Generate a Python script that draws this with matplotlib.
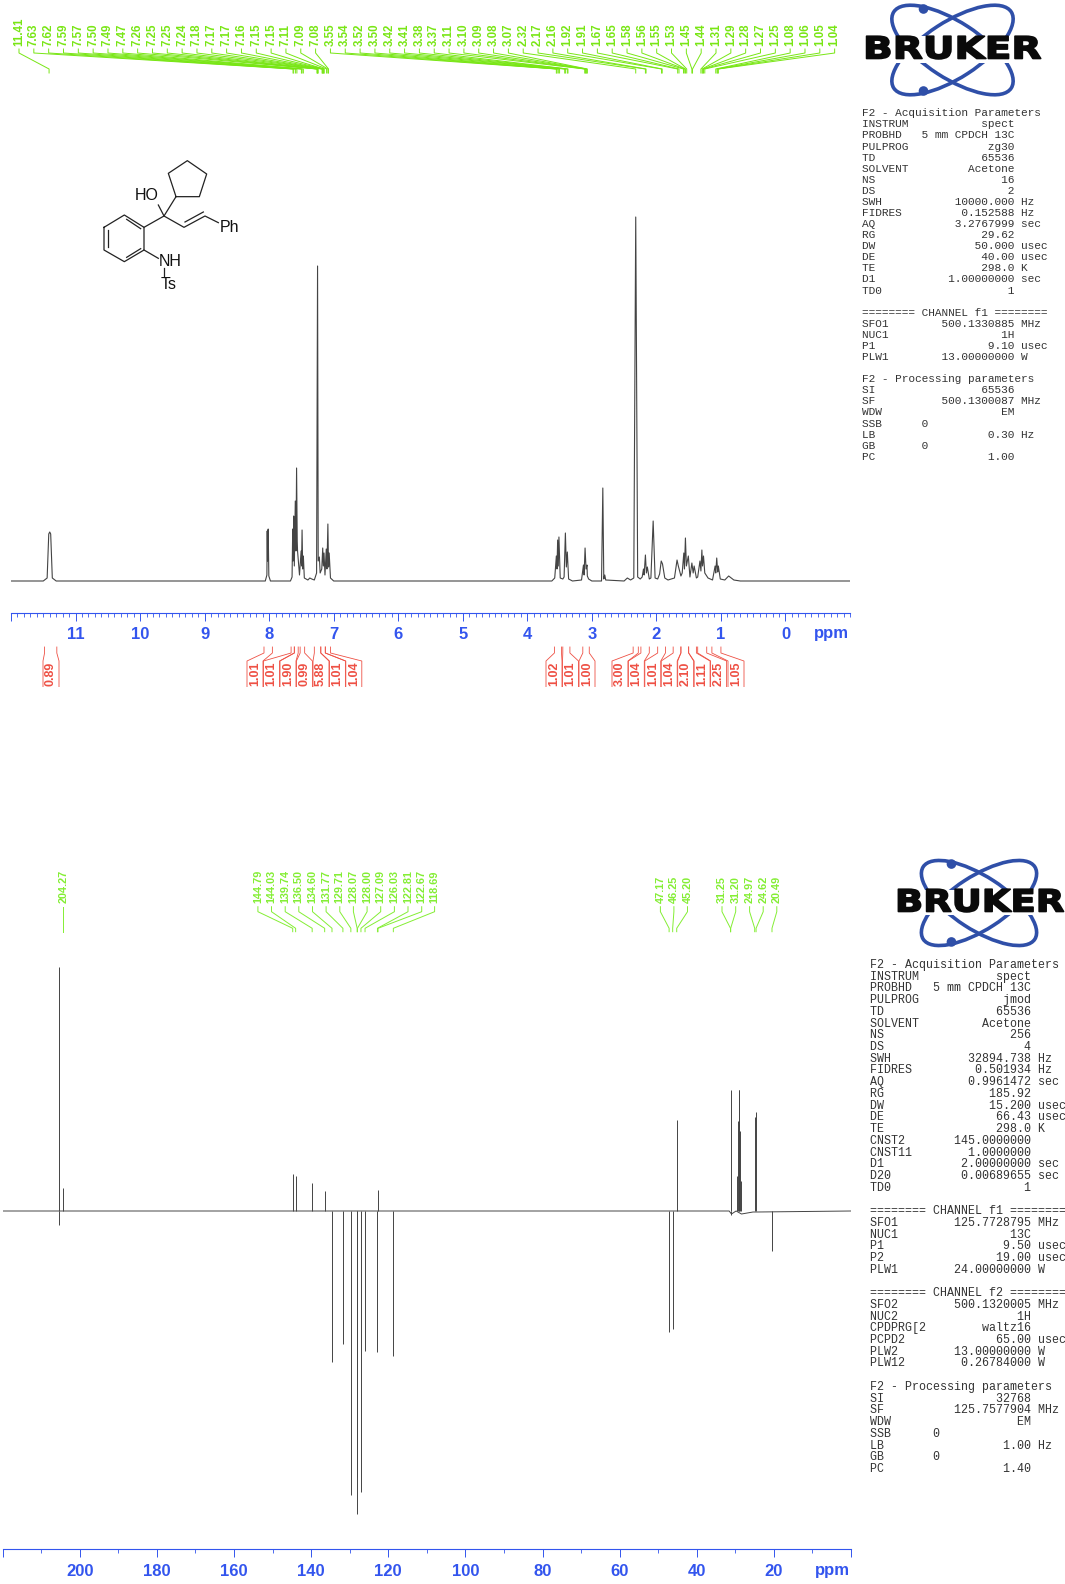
import matplotlib
matplotlib.use("Agg")
import matplotlib.pyplot as plt
from matplotlib.patches import Ellipse, Circle, Rectangle
from matplotlib.patheffects import AbstractPathEffect
from matplotlib.ticker import MultipleLocator
from matplotlib.transforms import Affine2D

# 1H trace, ppm against height
h_ppm = [12.0, 11.50, 11.44, 11.415, 11.40, 11.385, 11.36, 11.30, 8.06, 8.035, 8.03, 8.025, 8.015, 8.005, 7.98,
         7.67, 7.645, 7.635, 7.628, 7.62, 7.61, 7.595, 7.585, 7.575, 7.565, 7.56, 7.53, 7.505, 7.498, 7.49, 7.48,
         7.47, 7.455, 7.40, 7.37, 7.34, 7.30, 7.265, 7.25, 7.24, 7.222, 7.21, 7.185, 7.17, 7.16, 7.15, 7.135,
         7.115, 7.105, 7.09, 7.08, 7.07, 7.05, 7.0, 3.62, 3.575, 3.55, 3.54, 3.53, 3.52, 3.51, 3.49, 3.45, 3.43,
         3.41, 3.395, 3.38, 3.36, 3.3, 3.16, 3.13, 3.12, 3.105, 3.09, 3.075, 3.07, 3.05, 3.0, 2.85, 2.83, 2.815,
         2.80, 2.785, 2.5, 2.45, 2.40, 2.35, 2.32, 2.29, 2.25, 2.22, 2.20, 2.19, 2.17, 2.155, 2.14, 2.11, 2.085,
         2.05, 2.02, 1.98, 1.95, 1.925, 1.905, 1.87, 1.82, 1.72, 1.68, 1.66, 1.62, 1.60, 1.575, 1.565, 1.55,
         1.535, 1.505, 1.48, 1.45, 1.43, 1.415, 1.38, 1.36, 1.325, 1.31, 1.295, 1.285, 1.27, 1.25, 1.20, 1.13,
         1.09, 1.08, 1.065, 1.05, 1.04, 1.01, 0.94, 0.88, 0.86, 0.80, 0.70, -1.0]
h_int = [0, 0, 3, 47, 49, 47, 3, 0, 0, 6, 50, 20, 52, 5, 0,
         0, 4, 52, 20, 65, 15, 80, 30, 113, 40, 30, 6, 30, 15, 51, 12,
         25, 3, 1, 3, 2, 1, 8, 315, 20, 24, 8, 12, 33, 15, 28, 6,
         32, 12, 57, 14, 28, 3, 0, 0, 3, 25, 12, 41, 15, 44, 3, 2, 4,
         48, 14, 29, 2, 0, 1, 16, 6, 33, 12, 16, 5, 2, 0, 0, 93, 2,
         6, 1, 0, 3, 1, 3, 364, 4, 2, 4, 12, 6, 26, 8, 14, 2, 3,
         60, 3, 2, 7, 20, 17, 3, 1, 3, 21, 15, 5, 8, 28, 12, 43,
         15, 25, 4, 18, 8, 15, 3, 4, 20, 10, 31, 15, 25, 8, 3, 1,
         15, 8, 23, 9, 15, 2, 1, 5, 4, 1, 0, 0]

# 13C lines
c_peaks = [205.5, 205.4, 204.27, 144.79, 144.03, 139.74, 136.50, 134.60, 131.77, 129.71, 128.07, 128.00, 127.09,
           126.03, 122.81, 122.67, 118.69, 47.17, 46.25, 45.20, 31.25, 31.20, 29.5, 29.3, 29.1, 28.95, 28.8, 28.6,
           24.97, 24.62, 20.49]
c_heights = [244, -14, 23, 37, 35, 28, 20, -151, -133, -284, -303, -266, -281, -140, -141, 21, -145,
             -121, -118, 91, 121, -4, 35, 90, 121, 121, 80, 30, 94, 99, -40]
c_base_ppm = [220, 31.6, 31.0, 29.8, 28.4, 25.4, 24.2, 0]
c_base_int = [0, 0, -3, 0, -3, -1, -1, 0]

h_labels = ["11.41", "7.63", "7.62", "7.59", "7.57", "7.50", "7.49", "7.47", "7.26", "7.25", "7.25", "7.24", "7.18",
            "7.17", "7.17", "7.16", "7.15", "7.15", "7.11", "7.09", "7.08", "3.55", "3.54", "3.52", "3.50", "3.42",
            "3.41", "3.38", "3.37", "3.11", "3.10", "3.09", "3.08", "3.07", "2.32", "2.17", "2.16", "1.92", "1.91",
            "1.67", "1.65", "1.58", "1.56", "1.55", "1.53", "1.45", "1.44", "1.31", "1.29", "1.28", "1.27", "1.25",
            "1.08", "1.06", "1.05", "1.04"]
c_labels = ["144.79", "144.03", "139.74", "136.50", "134.60", "131.77", "129.71", "128.07", "128.00", "127.09",
            "126.03", "122.81", "122.67", "118.69", "47.17", "46.25", "45.20", "31.25", "31.20", "24.97", "24.62",
            "20.49"]
c_label_x = [257.9, 271.5, 285.2, 298.8, 312.5, 326.1, 339.8, 353.4, 367.1, 380.7, 394.4, 408.0, 421.7, 434.6,
             660.4, 673.9, 687.5, 722.0, 735.7, 749.6, 763.2, 776.8]

int_values = ["0.89", "1.01", "1.01", "1.90", "0.99", "5.88", "1.01", "1.04", "1.02", "1.01", "1.00",
              "3.00", "1.04", "1.01", "1.04", "2.10", "1.11", "2.25", "1.05"]
int_start = [11.48, 8.08, 7.66, 7.61, 7.52, 7.30, 7.20, 7.13, 3.58, 3.45, 3.14,
             2.36, 2.24, 1.98, 1.74, 1.62, 1.50, 1.36, 1.14]
int_end = [11.29, 7.95, 7.61, 7.55, 7.45, 7.20, 7.13, 7.05, 3.47, 3.34, 3.04,
           2.28, 2.11, 1.86, 1.62, 1.50, 1.38, 1.22, 1.00]
int_label_x = [51, 255, 271.5, 288, 304.4, 321, 337.4, 353.8, 554, 570.5, 587,
               620, 636.3, 652.8, 669.2, 685.7, 702.1, 718.6, 736]

params_h = [("INSTRUM", "spect", ""), ("PROBHD", "5 mm CPDCH 13C", ""), ("PULPROG", "zg30", ""), ("TD", "65536", ""),
            ("SOLVENT", "Acetone", ""), ("NS", "16", ""), ("DS", "2", ""), ("SWH", "10000.000", "Hz"),
            ("FIDRES", "0.152588", "Hz"), ("AQ", "3.2767999", "sec"), ("RG", "29.62", ""), ("DW", "50.000", "usec"),
            ("DE", "40.00", "usec"), ("TE", "298.0", "K"), ("D1", "1.00000000", "sec"), ("TD0", "1", "")]
chan_h = [("SFO1", "500.1330885", "MHz"), ("NUC1", "1H", ""), ("P1", "9.10", "usec"), ("PLW1", "13.00000000", "W")]
proc_h = [("SI", "65536", ""), ("SF", "500.1300087", "MHz"), ("WDW", "EM", ""), ("SSB", "0", "left"),
          ("LB", "0.30", "Hz"), ("GB", "0", "left"), ("PC", "1.00", "")]

params_c = [("INSTRUM", "spect", ""), ("PROBHD", "5 mm CPDCH 13C", ""), ("PULPROG", "jmod", ""), ("TD", "65536", ""),
            ("SOLVENT", "Acetone", ""), ("NS", "256", ""), ("DS", "4", ""), ("SWH", "32894.738", "Hz"),
            ("FIDRES", "0.501934", "Hz"), ("AQ", "0.9961472", "sec"), ("RG", "185.92", ""), ("DW", "15.200", "usec"),
            ("DE", "66.43", "usec"), ("TE", "298.0", "K"), ("CNST2", "145.0000000", ""), ("CNST11", "1.0000000", ""),
            ("D1", "2.00000000", "sec"), ("D20", "0.00689655", "sec"), ("TD0", "1", "")]
chan_c1 = [("SFO1", "125.7728795", "MHz"), ("NUC1", "13C", ""), ("P1", "9.50", "usec"), ("P2", "19.00", "usec"),
           ("PLW1", "24.00000000", "W")]
chan_c2 = [("SFO2", "500.1320005", "MHz"), ("NUC2", "1H", ""), ("CPDPRG[2", "waltz16", ""), ("PCPD2", "65.00", "usec"),
           ("PLW2", "13.00000000", "W"), ("PLW12", "0.26784000", "W")]
proc_c = [("SI", "32768", ""), ("SF", "125.7577904", "MHz"), ("WDW", "EM", ""), ("SSB", "0", "left"),
          ("LB", "1.00", "Hz"), ("GB", "0", "left"), ("PC", "1.40", "")]

W, H = 1065, 1584
BLUE = "#3355ee"
TRACE = "#444444"
GREEN_H = "#78e614"
GREEN_C = "#84ee34"
RED = "#ee5044"
LOGO = "#2f4fa8"


class Widen(AbstractPathEffect):
    # stretches the glyphs sideways, the logo lettering is much wider than any installed font
    def __init__(self, x0, sx, stroke):
        self.x0 = x0
        self.sx = sx
        self.stroke = stroke

    def draw_path(self, renderer, gc, tpath, affine, rgbFace=None):
        stretch = Affine2D().translate(-self.x0, 0).scale(self.sx, 1).translate(self.x0, 0)
        gc0 = renderer.new_gc()
        gc0.copy_properties(gc)
        gc0.set_linewidth(self.stroke)
        gc0.set_foreground(rgbFace)
        renderer.draw_path(gc0, tpath, affine + stretch, rgbFace)
        gc0.restore()


def axes_px(fig, left, top, right, bottom):
    return fig.add_axes([left / W, 1 - bottom / H, (right - left) / W, (bottom - top) / H])


def style_scale(ax, major, minor, labels):
    for side in ["left", "right", "top"]:
        ax.spines[side].set_visible(False)
    ax.spines["bottom"].set_color(BLUE)
    ax.spines["bottom"].set_linewidth(0.8)
    ax.set_yticks([])
    ax.set_xticks(major)
    ax.set_xticklabels(labels, family="Liberation Sans", weight="bold", fontsize=12, color=BLUE)
    ax.xaxis.set_minor_locator(MultipleLocator(minor))
    ax.tick_params(axis="x", which="major", length=5.8, width=0.7, color=BLUE, pad=4.5)
    ax.tick_params(axis="x", which="minor", length=2.6, width=0.6, color=BLUE)
    ax.patch.set_visible(False)


def draw_logo(pg, cx, cy, scale, text_left, text_width):
    for angle in [33, -33]:
        pg.add_patch(Ellipse((cx, cy), 140 * scale, 56 * scale, angle=angle, fill=False, ec=LOGO, lw=2.6))
    pg.add_patch(Rectangle((text_left - 4, cy - 14 * scale), text_width + 8, 27 * scale, fc="white", ec="none"))
    for dy in [-41, 41]:
        pg.add_patch(Circle((cx - 29 * scale, cy + dy * scale), 4.8, fc=LOGO, ec="none"))
    word = pg.text(text_left, cy, "BRUKER", family="DejaVu Sans", weight="bold", fontsize=22, color="#0a0a0a",
                   ha="left", va="center")
    # DejaVu Bold at this size is about 137 px wide
    word.set_path_effects([Widen(text_left, text_width / 137.0, 1.2)])


def draw_params(pg, x, y, step, size, blocks):
    n = 0
    for title, rows in blocks:
        if n > 0:
            n += 1
        pg.text(x, y + n * step, title, family="Liberation Mono", fontsize=size, color="#333333", va="center")
        n += 1
        for name, value, unit in rows:
            if unit == "left":
                line = f"{name:<9}{value}"
            else:
                line = f"{name:<9}{value:>14} {unit}"
            pg.text(x, y + n * step, line, family="Liberation Mono", fontsize=size, color="#333333", va="center")
            n += 1


def draw_molecule(pg):
    # coordinates are pixels of the picture, a small sketch, not data
    def zx(v):
        return 90 + v / 3

    def zy(v):
        return 150 + v / 3

    bonds = [[(42, 232), (103, 195), (162, 232), (162, 300), (103, 335), (42, 300), (42, 232)],
             [(55, 240), (55, 292)], [(110, 208), (152, 236)], [(110, 322), (152, 296)],
             [(162, 232), (222, 198), (258, 140), (235, 70), (292, 32), (350, 72), (328, 140), (258, 140)],
             [(222, 198), (205, 165)], [(222, 198), (282, 232), (345, 198), (385, 218)], [(285, 216), (340, 186)],
             [(162, 300), (205, 325)], [(222, 355), (222, 380)]]
    for bond in bonds:
        pg.plot([zx(p[0]) for p in bond], [zy(p[1]) for p in bond], color="#222222", lw=0.9)
    for tx, ty, s in [(170, 138, "HO"), (418, 233, "Ph"), (240, 335, "NH"), (235, 403, "Ts")]:
        pg.text(zx(tx), zy(ty), s, family="Liberation Sans", fontsize=11.5, color="#111111", ha="center", va="center")


fig = plt.figure(figsize=(W / 100, H / 100), dpi=100)

# 1H spectrum, one data unit is one pixel high
ax_h = axes_px(fig, 11, 100, 850, 612.7)
ax_h.plot(h_ppm, h_int, color=TRACE, lw=0.8)
ax_h.set_xlim(12, -1)
ax_h.set_ylim(-31.7, 481)
style_scale(ax_h, list(range(12, -1, -1)), 0.1, [""] + [str(v) for v in range(11, -1, -1)])

# 13C spectrum
ax_c = axes_px(fig, 2.7, 950, 851, 1549.3)
ax_c.plot(c_base_ppm, c_base_int, color=TRACE, lw=0.7)
ax_c.vlines(c_peaks, 0, c_heights, color=TRACE, lw=0.7)
ax_c.set_xlim(220, 0)
ax_c.set_ylim(-338.3, 261)
style_scale(ax_c, list(range(220, -1, -20)), 10, [""] + [str(v) for v in range(200, 0, -20)] + [""])

pg = fig.add_axes([0, 0, 1, 1])
pg.set_xlim(0, W)
pg.set_ylim(H, 0)
pg.axis("off")
pg.patch.set_visible(False)

for i, s in enumerate(h_labels):
    lx = 19 + 14.83 * i
    px = ax_h.transData.transform((float(s), 0))[0]
    pg.plot([lx, lx, px, px], [49, 53, 69, 73], color=GREEN_H, lw=0.7)
    pg.text(lx, 46, s, rotation=90, family="Liberation Sans", weight="bold", fontsize=8.3, color=GREEN_H,
            ha="center", va="bottom")

for s, lx in zip(c_labels, c_label_x):
    px = ax_c.transData.transform((float(s), 0))[0]
    pg.plot([lx, lx, px, px], [906.7, 911.7, 928.3, 931.7], color=GREEN_C, lw=0.7)
    pg.text(lx, 903, s, rotation=90, family="Liberation Sans", weight="bold", fontsize=7.8, color=GREEN_C,
            ha="center", va="bottom")
px = ax_c.transData.transform((204.27, 0))[0]
pg.plot([px, px], [906.7, 931.7], color=GREEN_C, lw=0.7)
pg.text(px, 903, "204.27", rotation=90, family="Liberation Sans", weight="bold", fontsize=7.8, color=GREEN_C,
        ha="center", va="bottom")

for s, a, b, lx in zip(int_values, int_start, int_end, int_label_x):
    xa = ax_h.transData.transform((a, 0))[0]
    xb = ax_h.transData.transform((b, 0))[0]
    pg.plot([xa, xa, lx - 8, lx - 8], [647, 653, 661, 687], color=RED, lw=0.6)
    pg.plot([xb, xb, lx + 8, lx + 8], [647, 653, 661, 687], color=RED, lw=0.6)
    pg.text(lx, 686, s, rotation=90, family="Liberation Sans", weight="bold", fontsize=9, color=RED,
            ha="center", va="bottom")
# the integral labels are cut off at the bottom
pg.add_patch(Rectangle((0, 687), 860, 6, fc="white", ec="none", zorder=5))

pg.text(831.5, 633.5, "ppm", family="Liberation Sans", weight="bold", fontsize=12, color=BLUE, ha="center", va="center")
pg.text(832, 1571, "ppm", family="Liberation Sans", weight="bold", fontsize=12, color=BLUE, ha="center", va="center")

draw_molecule(pg)

draw_logo(pg, 952.5, 50, 1.0, 863, 175)
draw_logo(pg, 979, 903, 0.95, 895, 166)

draw_params(pg, 861.7, 113.3, 11.08, 8, [("F2 - Acquisition Parameters", params_h),
                                          ("======== CHANNEL f1 ========", chan_h),
                                          ("F2 - Processing parameters", proc_h)])
draw_params(pg, 870, 965, 11.72, 8.4, [("F2 - Acquisition Parameters", params_c),
                                        ("======== CHANNEL f1 ========", chan_c1),
                                        ("======== CHANNEL f2 ========", chan_c2),
                                        ("F2 - Processing parameters", proc_c)])

fig.savefig("out.png", dpi=100)
